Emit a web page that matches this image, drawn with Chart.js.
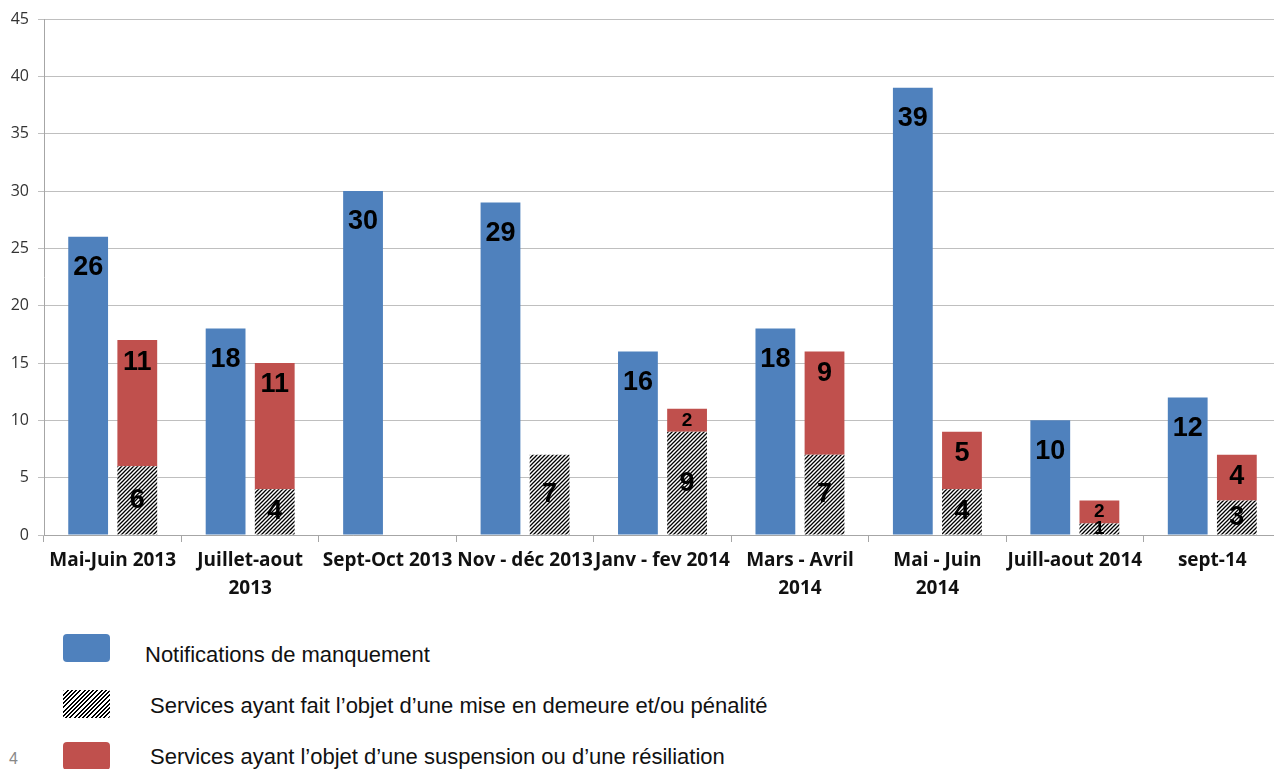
<!DOCTYPE html>
<html>
<head>
<meta charset="utf-8">
<script src="https://cdn.jsdelivr.net/npm/chart.js@4/dist/chart.umd.min.js"></script>
<style>
  html, body { margin: 0; padding: 0; background: #fff; overflow: hidden; }
  #wrap { position: relative; width: 1274px; height: 769px; overflow: hidden; }
  #box { position: absolute; left: 0; top: 0; width: 1281px; height: 612px; }
  .leg { position: absolute; left: 63px; width: 47px; height: 28px; border-radius: 4px; }
  .legtxt { position: absolute; font-family: "Liberation Sans", Arial, sans-serif; font-size: 22px; color: #111; white-space: nowrap; line-height: 26px; }
  #page { position: absolute; left: 9px; top: 750px; font-family: "Liberation Sans", Arial, sans-serif; font-size: 16px; color: #888; }
</style>
</head>
<body>
<div id="wrap">
  <div id="box"><canvas id="chart"></canvas></div>
  <div class="leg" style="top:634px;background:#4f81bd;"></div>
  <div class="legtxt" style="left:145px;top:642px;">Notifications de manquement</div>
  <div class="leg" style="top:690px;background:repeating-linear-gradient(135deg,#000 0 1.4px,#fff 1.4px 3px);border-radius:2px;"></div>
  <div class="legtxt" style="left:150px;top:693px;">Services ayant fait l’objet d’une mise en demeure et/ou pénalité</div>
  <div class="leg" style="top:742px;background:#c0504d;"></div>
  <div class="legtxt" style="left:150px;top:744px;">Services ayant l’objet d’une suspension ou d’une résiliation</div>
  <div id="page">4</div>
</div>
<script>
// Données
const categories = [
    'Mai-Juin 2013', ['Juillet-aout', '2013'], 'Sept-Oct 2013', 'Nov - déc 2013',
    'Janv - fev 2014', ['Mars - Avril', '2014'], ['Mai - Juin', '2014'], 'Juill-aout 2014', 'sept-14'
];
const notifications = [26, 18, 30, 29, 16, 18, 39, 10, 12];
const miseEnDemeure = [6, 4, null, 7, 9, 7, 4, 1, 3];
const suspension = [11, 11, null, null, 2, 9, 5, 2, 4];
const yTicks = [0, 5, 10, 15, 20, 25, 30, 35, 40, 45];

// Motif hachuré
function makeHatch(ctx) {
    const c = document.createElement('canvas');
    c.width = 4; c.height = 4;
    const g = c.getContext('2d');
    g.fillStyle = '#fff';
    g.fillRect(0, 0, 4, 4);
    g.strokeStyle = '#000';
    g.lineWidth = 1.3;
    g.beginPath();
    g.moveTo(0, 4); g.lineTo(4, 0);
    g.moveTo(-1, 1); g.lineTo(1, -1);
    g.moveTo(3, 5); g.lineTo(5, 3);
    g.stroke();
    return ctx.createPattern(c, 'repeat');
}

// Étiquettes de valeurs
const valueLabels = {
    id: 'valueLabels',
    afterDatasetsDraw(chart) {
        const ctx = chart.ctx;
        ctx.save();
        ctx.fillStyle = '#000';
        ctx.textAlign = 'center';
        ctx.textBaseline = 'middle';
        chart.data.datasets.forEach((ds, i) => {
            const meta = chart.getDatasetMeta(i);
            meta.data.forEach((bar, j) => {
                const v = ds.data[j];
                if (v === null || v === undefined) return;
                const h = bar.base - bar.y;
                const small = h < 30;
                ctx.font = 'bold ' + (small ? 19 : 27) + 'px "Liberation Sans", Arial, sans-serif';
                let y;
                if (ds.labelPos === 'top') y = bar.y + 31;
                else if (ds.labelPos === 'upper') y = small ? bar.y + h / 2 : bar.y + 22;
                else y = bar.y + h / 2;
                ctx.fillText(v, bar.x, y);
            });
        });
        ctx.restore();
    }
};

const ctx = document.getElementById('chart').getContext('2d');
const chart = new Chart(ctx, {
    type: 'bar',
    data: {
        labels: categories,
        datasets: [
            {
                label: 'Notifications de manquement',
                data: notifications,
                backgroundColor: '#4f81bd',
                stack: 'n',
                labelPos: 'top'
            },
            {
                label: 'Services ayant fait l’objet d’une mise en demeure et/ou pénalité',
                data: miseEnDemeure,
                backgroundColor: makeHatch(ctx),
                stack: 's',
                labelPos: 'middle'
            },
            {
                label: 'Services ayant l’objet d’une suspension ou d’une résiliation',
                data: suspension,
                backgroundColor: '#c0504d',
                stack: 's',
                labelPos: 'upper'
            }
        ]
    },
    options: {
        responsive: true,
        maintainAspectRatio: false,
        animation: false,
        datasets: {
            bar: { categoryPercentage: 0.715, barPercentage: 0.81 }
        },
        layout: { padding: { top: 19, right: 0, left: 0, bottom: 0 } },
        plugins: {
            legend: { display: false },
            tooltip: { enabled: false }
        },
        scales: {
            x: {
                stacked: true,
                grid: { drawOnChartArea: false, color: '#a6a6a6', tickLength: 7, offset: true },
                border: { color: '#a6a6a6' },
                ticks: {
                    color: '#111',
                    maxRotation: 0,
                    autoSkip: false,
                    padding: 5,
                    font: { family: '"Open Sans", sans-serif', size: 19, weight: 'bold', lineHeight: 1.45 }
                },
                afterFit(scale) { scale.height = 77; }
            },
            y: {
                stacked: true,
                min: 0,
                max: 45,
                afterBuildTicks(scale) { scale.ticks = yTicks.map(v => ({ value: v })); },
                grid: { color: '#bfbfbf', tickLength: 6 },
                border: { color: '#a6a6a6' },
                ticks: {
                    color: '#333',
                    padding: 9,
                    font: { family: '"Open Sans", sans-serif', size: 16 }
                },
                afterFit(scale) { scale.width = 44; }
            }
        }
    },
    plugins: [valueLabels]
});
</script>
</body>
</html>
